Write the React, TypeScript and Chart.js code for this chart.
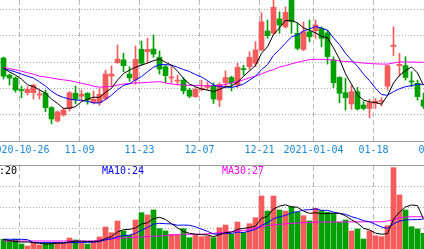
import React, { useEffect, useRef } from "react";
import { Chart, registerables } from "chart.js";

Chart.register(...registerables);

// ---- date axis ----
const dateIndex = [3, 13, 23, 33, 43, 52, 62, 72];
const dateLabels = ["2020-10-26", "11-09", "11-23", "12-07", "12-21", "2021-01-04", "01-18", "02-01"];

// ---- candles ----
const openP = [
  23.16, 22.51, 22.40, 21.96, 21.84, 21.84, 21.75, 21.82, 21.27, 20.77,
  20.99, 21.24, 21.82, 21.71, 21.82, 21.46, 21.46, 21.61, 22.47, 22.98,
  23.09, 22.55, 22.32, 23.49, 23.40, 23.50, 23.19, 22.83, 22.40, 22.28,
  22.32, 21.94, 21.69, 21.97, 22.04, 22.09, 21.56, 22.22, 22.42, 22.13,
  22.76, 22.83, 22.96, 23.47, 24.19, 24.10, 24.65, 24.35, 25.45, 24.10,
  23.49, 24.16, 24.20, 24.29, 24.12, 23.09, 22.42, 21.84, 21.41, 21.88,
  21.37, 21.24, 21.43, 21.50, 22.09, 23.60, 22.87, 22.87, 22.28, 22.20,
  21.56,
];
const highP = [
  23.20, 22.55, 22.44, 22.09, 22.06, 22.17, 21.94, 21.94, 21.31, 21.14,
  21.26, 21.88, 22.09, 21.94, 21.84, 21.90, 22.01, 22.70, 22.86, 23.66,
  23.34, 22.83, 23.62, 23.81, 23.91, 24.04, 23.43, 22.89, 22.87, 22.51,
  22.42, 22.01, 22.04, 22.32, 22.26, 22.22, 22.22, 22.67, 22.47, 22.96,
  22.88, 23.40, 23.78, 24.89, 24.61, 25.50, 24.92, 25.11, 25.60, 24.48,
  24.54, 24.61, 24.61, 24.35, 24.23, 23.21, 22.45, 22.39, 22.13, 22.04,
  21.50, 21.59, 21.62, 21.65, 22.89, 24.35, 23.34, 23.21, 22.64, 22.32,
  21.83,
];
const lowP = [
  22.36, 22.13, 21.86, 21.65, 21.75, 21.60, 21.60, 21.11, 20.65, 20.72,
  20.95, 21.14, 21.41, 21.56, 21.40, 21.41, 21.36, 21.56, 22.09, 22.96,
  22.64, 22.28, 22.16, 22.89, 22.96, 23.19, 22.55, 22.22, 22.20, 22.13,
  21.79, 21.65, 21.66, 21.91, 21.94, 21.43, 21.31, 22.04, 21.91, 22.04,
  22.51, 22.70, 22.83, 23.44, 23.91, 24.04, 24.10, 24.30, 24.10, 23.47,
  23.44, 23.78, 23.91, 23.59, 22.93, 22.04, 21.46, 21.18, 21.21, 21.18,
  21.18, 20.89, 21.24, 21.33, 21.94, 23.25, 22.47, 22.32, 22.07, 21.56,
  21.24,
];
const closeP = [
  22.47, 22.40, 21.94, 21.92, 21.97, 22.13, 21.79, 21.27, 20.84, 21.11,
  21.18, 21.84, 21.59, 21.78, 21.56, 21.59, 21.78, 22.55, 22.55, 23.12,
  22.87, 22.41, 23.11, 22.96, 23.49, 23.31, 22.74, 22.49, 22.44, 22.32,
  21.91, 21.71, 21.97, 22.01, 22.10, 21.60, 22.16, 22.42, 22.22, 22.81,
  22.72, 23.19, 23.47, 24.54, 24.01, 25.09, 24.42, 24.90, 24.54, 23.53,
  24.16, 23.97, 24.42, 23.91, 23.21, 22.22, 21.82, 21.65, 21.88, 21.22,
  21.24, 21.46, 21.52, 21.54, 22.87, 23.65, 22.92, 22.42, 22.25, 21.69,
  21.33,
];

// ---- price moving averages ----
const ma5 = [
  22.78, 22.63, 22.51, 22.36, 22.14, 22.07, 21.95, 21.82, 21.60, 21.43,
  21.24, 21.25, 21.31, 21.50, 21.59, 21.67, 21.66, 21.85, 22.01, 22.32,
  22.57, 22.70, 22.81, 22.89, 22.97, 23.06, 23.12, 23.00, 22.89, 22.66,
  22.38, 22.17, 22.07, 21.98, 21.94, 21.88, 21.97, 22.06, 22.10, 22.24,
  22.47, 22.67, 22.88, 23.34, 23.59, 24.06, 24.31, 24.59, 24.59, 24.50,
  24.31, 24.22, 24.12, 23.99, 23.93, 23.55, 23.12, 22.56, 22.16, 21.76,
  21.56, 21.49, 21.47, 21.40, 21.73, 22.21, 22.50, 22.68, 22.82, 22.59,
  22.12,
];
const ma10 = [
  22.74, 22.70, 22.63, 22.55, 22.47, 22.40, 22.25, 22.09, 21.90, 21.75,
  21.66, 21.60, 21.56, 21.55, 21.51, 21.45, 21.45, 21.58, 21.75, 21.95,
  22.12, 22.18, 22.33, 22.45, 22.64, 22.81, 22.91, 22.91, 22.89, 22.81,
  22.72, 22.65, 22.53, 22.44, 22.30, 22.13, 22.07, 22.06, 22.04, 22.09,
  22.17, 22.32, 22.47, 22.72, 22.91, 23.26, 23.49, 23.73, 23.97, 24.04,
  24.19, 24.27, 24.36, 24.30, 24.22, 23.93, 23.67, 23.34, 23.08, 22.85,
  22.55, 22.30, 22.01, 21.77, 21.74, 21.88, 21.99, 22.07, 22.11, 22.16,
  22.16,
];
const ma30 = [
  22.81, 22.76, 22.71, 22.66, 22.60, 22.54, 22.47, 22.44, 22.40, 22.36,
  22.33, 22.30, 22.25, 22.20, 22.15, 22.09, 22.05, 22.06, 22.08, 22.13,
  22.17, 22.19, 22.21, 22.22, 22.23, 22.25, 22.26, 22.21, 22.17, 22.15,
  22.13, 22.12, 22.12, 22.11, 22.10, 22.11, 22.12, 22.15, 22.21, 22.26,
  22.33, 22.41, 22.47, 22.56, 22.65, 22.72, 22.82, 22.87, 22.94, 23.00,
  23.05, 23.10, 23.11, 23.11, 23.10, 23.09, 23.05, 23.03, 23.02, 22.99,
  22.97, 22.95, 22.94, 22.93, 22.93, 22.97, 23.01, 23.01, 23.01, 23.00,
  23.00,
];

// ---- volume ----
const volume = [
  9.3, 7.7, 9.3, 4.8, 2.9, 6.1, 3.9, 6.1, 6.1, 6.1,
  6.1, 10.6, 8.7, 6.1, 4.8, 6.7, 11.6, 21.2, 15.7, 27.0,
  17.4, 13.2, 28.0, 35.0, 32.8, 37.6, 19.6, 17.4, 14.2, 13.5,
  19.6, 10.9, 13.2, 11.9, 12.5, 10.9, 20.5, 23.1, 14.2, 26.0,
  15.7, 24.4, 30.2, 51.1, 36.6, 51.1, 37.6, 36.6, 40.8, 35.4,
  32.1, 27.0, 39.2, 36.9, 35.4, 34.4, 25.7, 28.0, 17.4, 19.3,
  9.6, 17.4, 12.8, 11.9, 22.5, 78.4, 52.1, 37.6, 21.5, 19.3,
  15.1,
];
const volMa5 = [
  9.2, 8.2, 7.2, 6.7, 6.8, 6.16, 5.4, 4.76, 5.02, 5.66,
  5.66, 7.0, 7.52, 7.52, 7.26, 7.38, 7.58, 10.08, 12.0, 16.44,
  18.58, 18.9, 20.26, 24.12, 25.28, 29.32, 30.6, 28.48, 24.32, 20.46,
  16.86, 15.12, 14.28, 13.82, 13.62, 11.88, 13.8, 15.78, 16.24, 18.94,
  19.9, 20.68, 22.1, 29.48, 31.6, 38.68, 41.32, 42.6, 40.54, 40.3,
  36.5, 34.38, 34.9, 34.12, 34.12, 34.58, 34.32, 32.08, 28.18, 24.96,
  20.0, 18.34, 15.3, 14.2, 14.84, 28.6, 35.54, 40.5, 42.42, 41.78,
  29.12,
];
const volMa10 = [
  9.4, 9.4, 9.4, 9.3, 9.0, 6.3, 6.1, 6.1, 6.1, 6.23,
  5.91, 6.2, 6.14, 6.27, 6.46, 6.52, 7.29, 8.8, 9.76, 11.85,
  12.98, 13.24, 15.17, 18.06, 20.86, 23.95, 24.75, 24.37, 24.22, 22.87,
  23.09, 22.86, 21.38, 19.07, 17.04, 14.37, 14.46, 15.03, 15.03, 16.28,
  15.89, 17.24, 18.94, 22.86, 25.27, 29.29, 31.0, 32.35, 35.01, 35.95,
  37.59, 37.85, 38.75, 37.33, 37.21, 35.54, 34.35, 33.49, 31.15, 29.54,
  27.29, 26.33, 23.69, 21.19, 19.9, 24.3, 26.94, 27.9, 28.31, 28.31,
  28.86,
];
const volMa30 = [
  7.7, 7.7, 7.7, 7.7, 7.7, 7.7, 7.7, 7.7, 7.7, 7.7,
  7.7, 7.7, 7.7, 7.7, 7.7, 7.7, 8.7, 9.4, 9.8, 10.3,
  10.6, 11.0, 11.3, 11.6, 12.0, 12.2, 12.5, 13.0, 13.5, 14.0,
  14.2, 14.2, 14.2, 14.3, 14.7, 15.1, 15.7, 16.2, 16.7, 17.2,
  17.8, 18.8, 20.2, 21.2, 22.5, 23.2, 23.8, 24.3, 24.7, 25.1,
  25.4, 25.6, 25.8, 25.9, 26.0, 26.0, 26.1, 26.1, 26.2, 26.2,
  26.2, 26.2, 26.2, 26.2, 27.0, 28.2, 30.2, 30.8, 31.1, 31.1,
  31.1,
];

const priceGrid = [21, 22, 23, 24, 25];
const volumeGrid = [20, 40, 60];

const UP = "#f65b5b";
const DOWN = "#00a000";
const X_MIN = -3.5 / 6;
const X_MAX = (424 - 3.5) / 6;
const GRID_SHIFT = -1 / 3;

function xScale(showLabels: boolean) {
  return {
    type: "linear" as const,
    min: X_MIN,
    max: X_MAX,
    offset: false,
    bounds: "data" as const,
    position: "bottom" as const,
    afterBuildTicks: (s: any) => {
      s.ticks = dateIndex.map((i) => ({ value: i + GRID_SHIFT }));
    },
    ticks: {
      display: showLabels,
      autoSkip: false,
      maxRotation: 0,
      minRotation: 0,
      padding: 3,
      color: "#1a8ad8",
      font: { family: "DejaVu Sans Mono", size: 10 },
      callback: (_v: any, i: number) => dateLabels[i],
    },
    grid: { color: "#b8b8b8", lineWidth: 1, drawTicks: false, offset: false },
    border: { display: false, dash: [5, 3] },
    afterFit: (s: any) => {
      s.height = showLabels ? 25 : 0;
      s.paddingLeft = 0;
      s.paddingRight = 0;
    },
  };
}

function yScale(min: number, max: number, grid: number[]) {
  return {
    type: "linear" as const,
    min,
    max,
    offset: false,
    position: "left" as const,
    afterBuildTicks: (s: any) => {
      s.ticks = grid.map((v) => ({ value: v }));
    },
    ticks: { display: false },
    grid: { color: "#a8a8a8", lineWidth: 1, drawTicks: false, offset: false },
    border: { display: false, dash: [1, 2] },
    afterFit: (s: any) => {
      s.width = 0;
    },
  };
}

function lineSet(values: number[], color: string, order: number) {
  return {
    type: "line" as const,
    data: values.map((v, i) => ({ x: i, y: v })),
    borderColor: color,
    borderWidth: 1,
    pointRadius: 0,
    tension: 0,
    fill: false,
    order,
  };
}

const baseOptions = {
  responsive: false,
  maintainAspectRatio: false,
  animation: false as const,
  events: [] as any[],
  layout: { padding: 0, autoPadding: false },
  plugins: { legend: { display: false }, tooltip: { enabled: false }, title: { display: false } },
};

export default function App() {
  const topRef = useRef<HTMLCanvasElement>(null);
  const volRef = useRef<HTMLCanvasElement>(null);

  useEffect(() => {
    const colors = openP.map((o, i) => (closeP[i] >= o ? UP : DOWN));
    const top = new Chart(topRef.current as HTMLCanvasElement, {
      type: "bar",
      data: {
        datasets: [
          {
            type: "bar",
            data: openP.map((_, i) => ({ x: i, y: [lowP[i], highP[i]] })) as any,
            backgroundColor: colors,
            barThickness: 1,
            grouped: false,
            order: 6,
          },
          {
            type: "bar",
            data: openP.map((o, i) => ({ x: i, y: [o, closeP[i]] })) as any,
            backgroundColor: colors,
            barThickness: 5,
            grouped: false,
            minBarLength: 1,
            order: 5,
          },
          lineSet(ma30, "#ff00ff", 3),
          lineSet(ma10, "#0000ff", 2),
          lineSet(ma5, "#000000", 1),
        ] as any,
      },
      options: {
        ...baseOptions,
        scales: {
          x: xScale(true),
          y: yScale(20, 20 + 141 / 26.25, priceGrid),
        },
      } as any,
    });

    const vol = new Chart(volRef.current as HTMLCanvasElement, {
      type: "bar",
      data: {
        datasets: [
          {
            type: "bar",
            data: volume.map((v, i) => ({ x: i, y: v })),
            backgroundColor: colors,
            barThickness: 5,
            grouped: false,
            order: 5,
          },
          lineSet(volMa30, "#ff00ff", 3),
          lineSet(volMa10, "#0000ff", 2),
          lineSet(volMa5, "#000000", 1),
        ] as any,
      },
      options: {
        ...baseOptions,
        scales: {
          x: xScale(false),
          y: yScale(0, 80, volumeGrid),
        },
      } as any,
    });

    return () => {
      top.destroy();
      vol.destroy();
    };
  }, []);

  const legendStyle = (left: number, color: string): React.CSSProperties => ({
    position: "absolute",
    left,
    top: 165,
    font: "10px 'DejaVu Sans Mono'",
    lineHeight: "12px",
    color,
    whiteSpace: "nowrap",
  });

  return (
    <div
      style={{
        position: "fixed",
        left: 0,
        top: 0,
        width: 424,
        height: 249,
        background: "#ffffff",
        overflow: "hidden",
      }}
    >
      <canvas ref={topRef} width={424} height={166} style={{ position: "absolute", left: 0, top: 0 }} />
      <div style={{ position: "absolute", left: 0, top: 141, width: 424, height: 1, background: "#9a9a9a" }} />
      <div style={{ position: "absolute", left: 0, top: 165, width: 424, height: 1, background: "#9a9a9a" }} />
      <canvas ref={volRef} width={424} height={83} style={{ position: "absolute", left: 0, top: 166 }} />
      <span style={legendStyle(-19, "#000000")}>MA5:20</span>
      <span style={legendStyle(102, "#0000ff")}>MA10:24</span>
      <span style={legendStyle(222, "#ff00ff")}>MA30:27</span>
    </div>
  );
}
